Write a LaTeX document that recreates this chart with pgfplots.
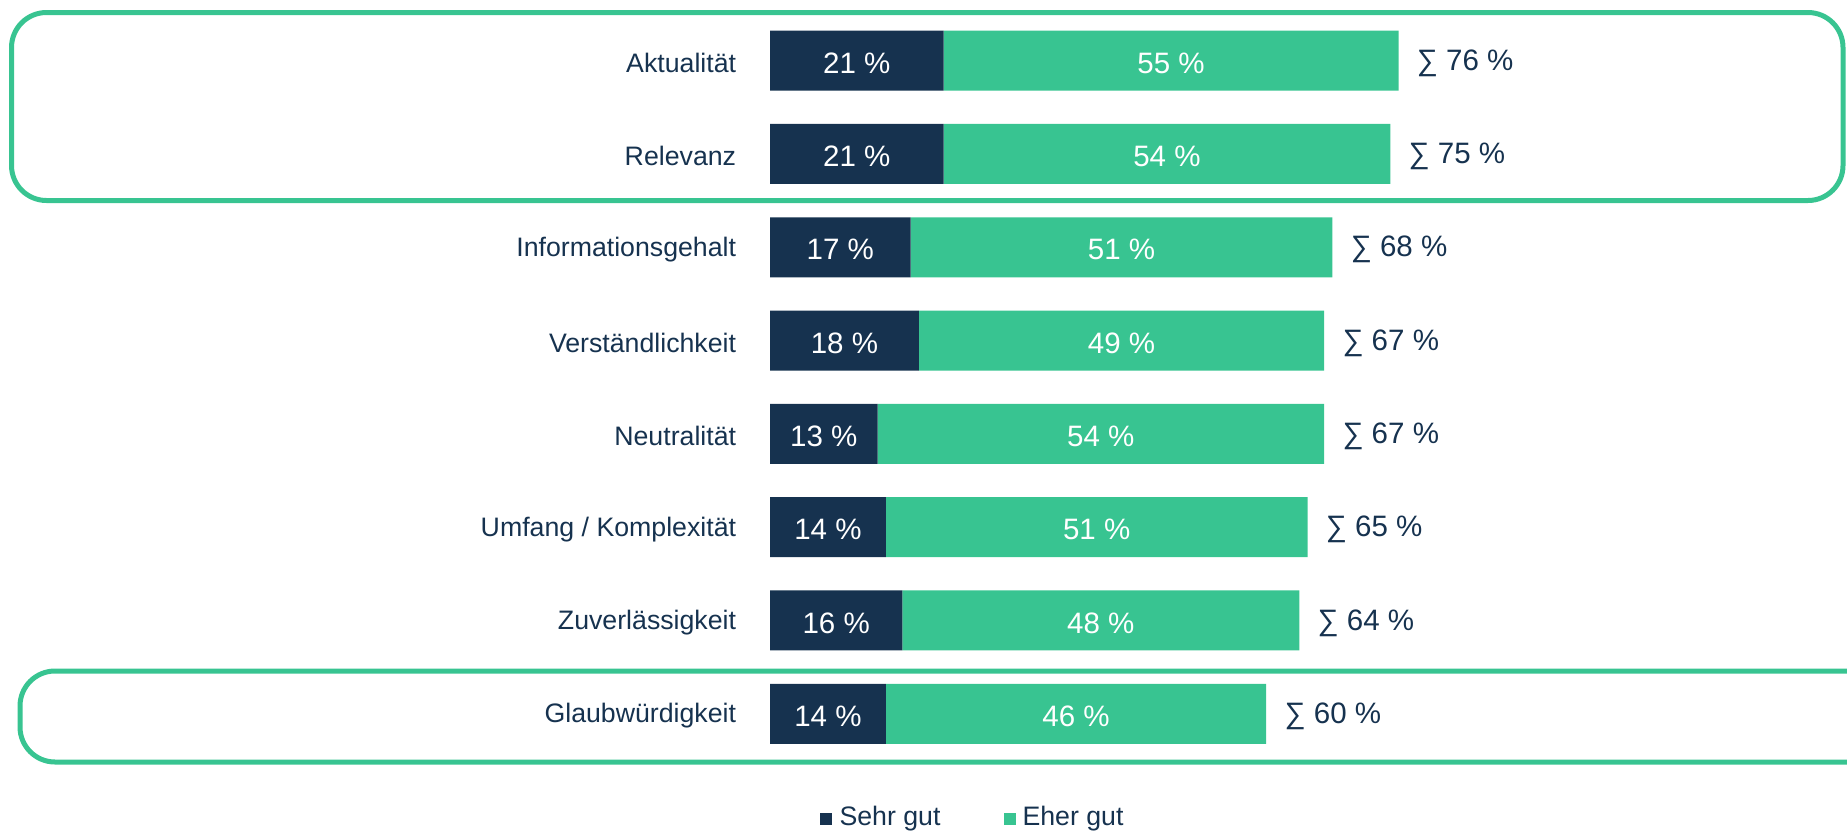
\documentclass[border=0pt]{standalone}
\usepackage{fontspec}
\setmainfont{Liberation Sans}
\usepackage{pgfplots}
\usepackage{pgfplotstable}
\pgfplotsset{compat=1.18}

\definecolor{navy}{RGB}{22,50,79}
\definecolor{mint}{RGB}{56,196,145}

% idx: row from top; sehr / eher in percent; sum as printed
\pgfplotstableread[col sep=comma]{
idx,sehr,eher,sum
0,21,55,76
1,21,54,75
2,17,51,68
3,18,49,67
4,13,54,67
5,14,51,65
6,16,48,64
7,14,46,60
}\ratings

\pgfplotsset{
    geom/.style={
        width=82.7mm, height=74.64mm, scale only axis,
        at={(77mm,-1.4mm)}, anchor=north west,
        xmin=0, xmax=100, ymin=-0.5, ymax=7.5, y dir=reverse,
        clip=false,
    },
}

\begin{document}
\begin{tikzpicture}
\path[use as bounding box] (0,0) rectangle (184.7mm,-83.1mm);

% -- bars ----------------------------------------------------------------
\begin{axis}[
    geom,
    xbar stacked, bar width=6mm,
    axis line style={draw=none}, major tick length=0pt,
    xtick=\empty,
    ytick={0,...,7},
    yticklabels={Aktualität, Relevanz, Informationsgehalt, Verständlichkeit,
        Neutralität, Umfang / Komplexität, Zuverlässigkeit, Glaubwürdigkeit},
    yticklabel style={font=\fontsize{7.6}{9}\selectfont, text=navy,
        xshift=-2.15mm, yshift=-0.2mm},
    legend columns=2,
    legend style={at={(0.2485,-0.078)}, anchor=center, draw=none, fill=none,
        font=\fontsize{7.6}{9}\selectfont, text=navy,
        /tikz/every even column/.append style={column sep=5.6mm}},
    legend image code/.code={\fill[#1] (0mm,-0.6mm) rectangle (1.2mm,0.6mm);},
]
\addplot[fill=navy, draw=none] table[x=sehr, y=idx]{\ratings};
\addlegendentry{Sehr gut}
\addplot[fill=mint, draw=none] table[x=eher, y=idx]{\ratings};
\addlegendentry{Eher gut}
\end{axis}

% -- value labels ----------------------------------------------------------
\begin{axis}[
    geom, hide axis,
    point meta=explicit,
    /pgf/number format/assume math mode=true,
    every node near coord/.append style={font=\fontsize{8.4}{10}\selectfont,
        yshift=-0.25mm},
]
\addplot[draw=none, nodes near coords={\pgfmathprintnumber\pgfplotspointmeta\ \%},
    every node near coord/.append style={anchor=center, text=white}]
    table[x expr=\thisrow{sehr}/2, y=idx, meta=sehr]{\ratings};
\addplot[draw=none, nodes near coords={\pgfmathprintnumber\pgfplotspointmeta\ \%},
    every node near coord/.append style={anchor=center, text=white}]
    table[x expr=\thisrow{sehr}+\thisrow{eher}/2, y=idx, meta=eher]{\ratings};
\addplot[draw=none, nodes near coords={∑ \pgfmathprintnumber\pgfplotspointmeta\ \%},
    every node near coord/.append style={anchor=west, text=navy, xshift=0.6mm}]
    table[x=sum, y=idx, meta=sum]{\ratings};
\end{axis}

% -- highlight frames ------------------------------------------------------
\begin{scope}
\clip (0,0) rectangle (184.7mm,-83.1mm);
\draw[mint, line width=0.5mm, rounded corners=3.5mm]
    (1.15mm,-1.25mm) rectangle (184.3mm,-20.05mm);
\draw[mint, line width=0.5mm, rounded corners=3.5mm]
    (2.0mm,-67.1mm) rectangle (190mm,-76.2mm);
\end{scope}
\end{tikzpicture}
\end{document}
